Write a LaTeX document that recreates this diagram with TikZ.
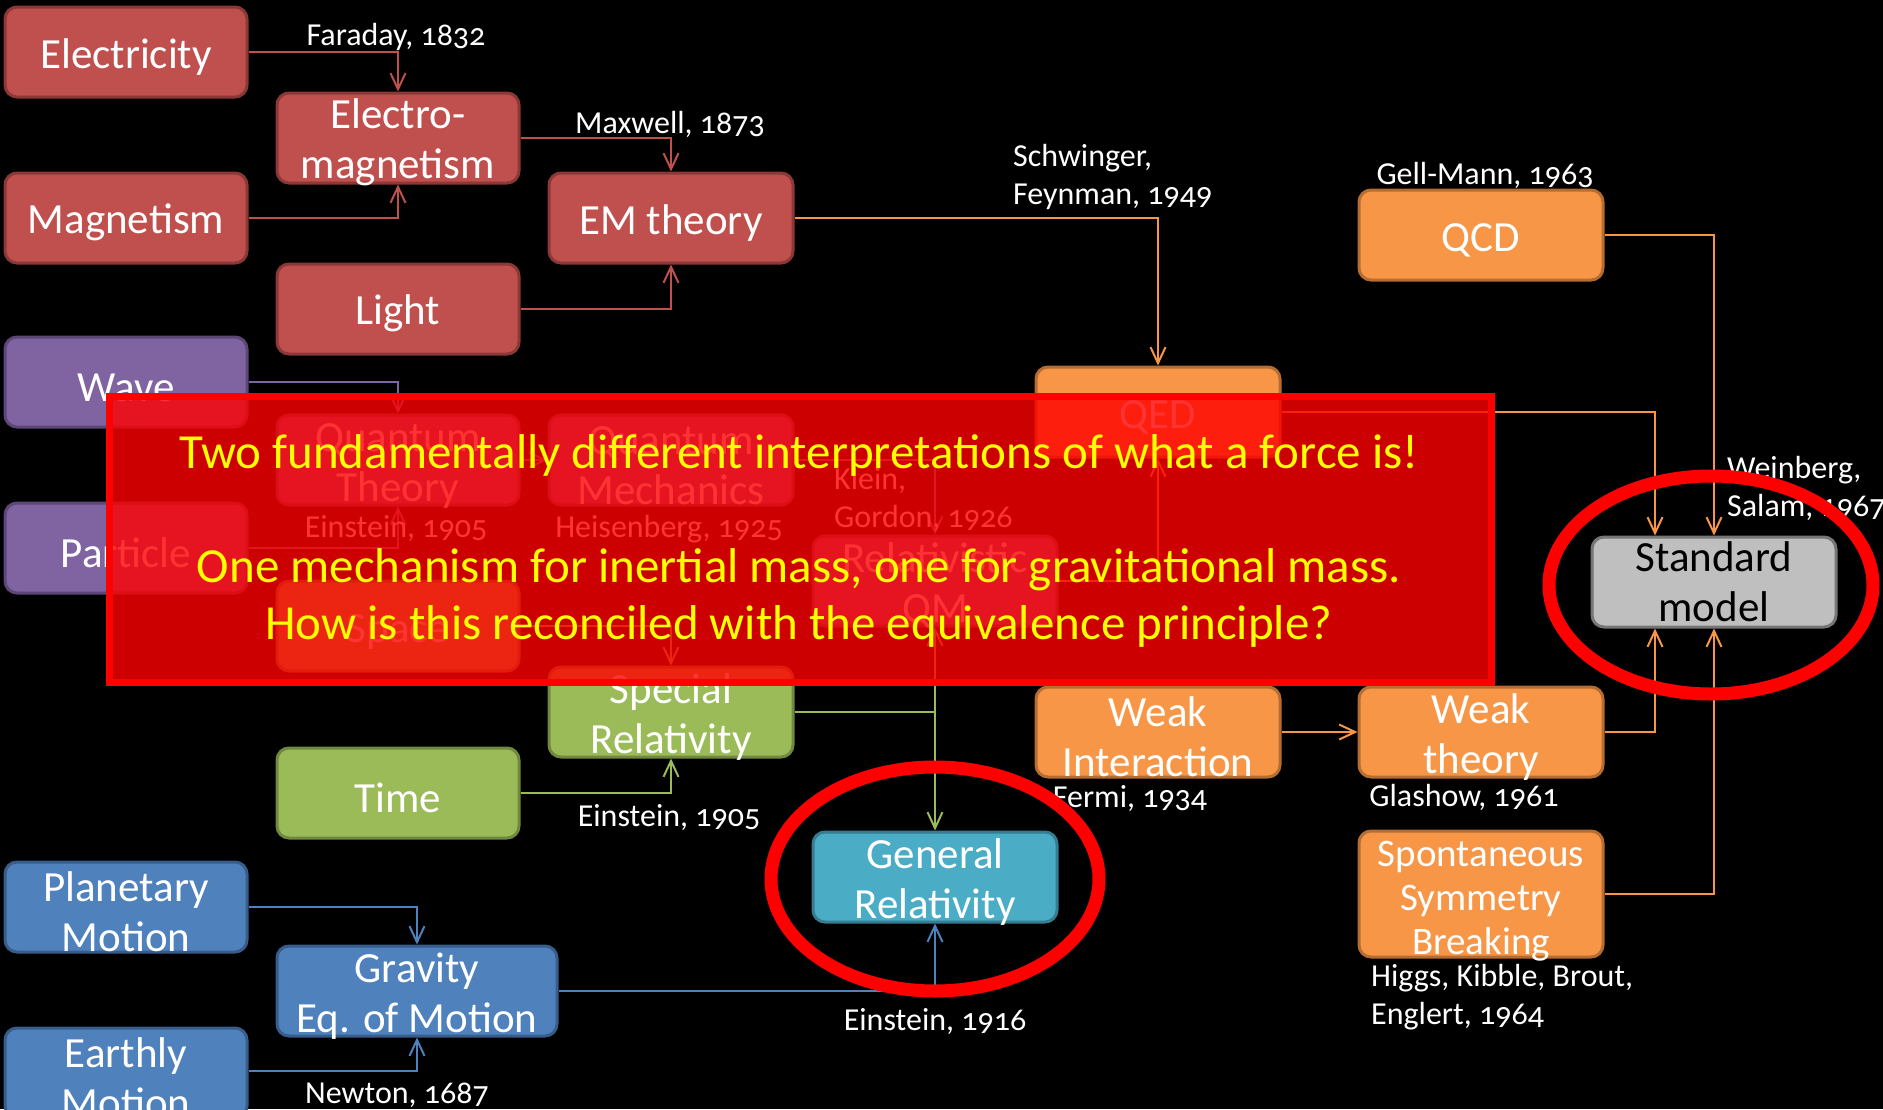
\documentclass[tikz,border=0pt]{standalone}
\usepackage{fontspec}
\setmainfont{Carlito}[Numbers=OldStyle]
\usetikzlibrary{arrows.meta}

\newcommand{\boxfont}{\fontsize{43}{50}\selectfont}
\newcommand{\ssbfont}{\fontsize{39}{44}\selectfont}
\newcommand{\notefont}{\fontsize{32}{38}\selectfont}
\newcommand{\alertfont}{\fontsize{49}{57}\selectfont}
\newcommand{\boxstrut}{\rule{0pt}{39pt}}

\tikzset{
  box/.style={rounded corners=12, minimum width=244, minimum height=90, inner xsep=0, inner ysep=-8, align=center, text=white, line width=3, font=\boxfont},
  redbox/.style={box, fill={rgb, 255:red, 192; green, 80; blue, 77}, draw={rgb, 255:red, 140; green, 56; blue, 54}},
  purplebox/.style={box, fill={rgb, 255:red, 128; green, 100; blue, 162}, draw={rgb, 255:red, 92; green, 71; blue, 118}},
  greenbox/.style={box, fill={rgb, 255:red, 155; green, 187; blue, 89}, draw={rgb, 255:red, 113; green, 137; blue, 63}},
  bluebox/.style={box, fill={rgb, 255:red, 79; green, 129; blue, 189}, draw={rgb, 255:red, 56; green, 93; blue, 138}},
  orangebox/.style={box, fill={rgb, 255:red, 247; green, 150; blue, 70}, draw={rgb, 255:red, 182; green, 109; blue, 49}},
  tealbox/.style={box, fill={rgb, 255:red, 75; green, 172; blue, 198}, draw={rgb, 255:red, 53; green, 125; blue, 145}},
  greybox/.style={box, fill={rgb, 255:red, 191; green, 191; blue, 191}, draw={rgb, 255:red, 118; green, 118; blue, 118}, text=black},
  link/.style={line width=2, -{Straight Barb[length=16, width=15]}},
  redlink/.style={link, draw={rgb, 255:red, 192; green, 80; blue, 77}},
  purplelink/.style={link, draw={rgb, 255:red, 128; green, 100; blue, 162}},
  greenlink/.style={link, draw={rgb, 255:red, 155; green, 187; blue, 89}},
  bluelink/.style={link, draw={rgb, 255:red, 79; green, 129; blue, 189}},
  orangelink/.style={link, draw={rgb, 255:red, 247; green, 150; blue, 70}},
  note/.style={text=white, font=\notefont, inner sep=0, align=left},
  ring/.style={draw={rgb, 255:red, 255; green, 0; blue, 0}, line width=13},
}

\begin{document}
\begin{tikzpicture}[x=1pt,y=1pt,yscale=-1,xscale=1]
\path[use as bounding box, fill=black] (0,0) rectangle (1883,1109);
\clip (0,0) rectangle (1883,1109);

% electromagnetism
\node[redbox, minimum width=242] (elec) at (126,52) {\boxstrut Electricity};
\node[redbox, minimum width=242] (mag) at (126,218) {\boxstrut Magnetism};
\node[redbox, minimum width=242] (emag) at (398,138) {\boxstrut Electro-\\magnetism};
\node[redbox, minimum width=242] (light) at (398,309) {\boxstrut Light};
\node[redbox] (emth) at (671,218) {\boxstrut EM theory};

% quantum
\node[purplebox, minimum width=242] (wave) at (126,382) {\boxstrut Wave};
\node[purplebox, minimum width=242] (part) at (126,548) {\boxstrut Particle};
\node[purplebox, minimum width=242] (qth) at (398,460) {\boxstrut Quantum\\Theory};
\node[purplebox] (qm) at (671,460) {\boxstrut Quantum\\Mechanics};
\node[purplebox] (rqm) at (935,581) {\boxstrut Relativistic\\QM};

% relativity
\node[greenbox, minimum width=242] (space) at (398,626) {\boxstrut Space};
\node[greenbox, minimum width=242] (time) at (398,793) {\boxstrut Time};
\node[greenbox] (sr) at (671,712) {\boxstrut Special\\Relativity};
\node[tealbox] (gr) at (935,877) {\boxstrut General\\Relativity};

% gravity
\node[bluebox, minimum width=242] (plan) at (126,907) {\boxstrut Planetary\\Motion};
\node[bluebox, minimum width=242] (earth) at (126,1073) {\boxstrut Earthly\\Motion};
\node[bluebox, minimum width=280] (grav) at (417,991) {\boxstrut Gravity\\Eq. of Motion};

% particle physics
\node[orangebox] (qed) at (1158,412) {\boxstrut QED};
\node[orangebox] (qcd) at (1481,235) {\boxstrut QCD};
\node[orangebox] (weak) at (1158,732) {\boxstrut Weak\\Interaction};
\node[orangebox] (wth) at (1481,732) {\boxstrut Weak\\theory};
\node[orangebox, minimum height=126, font=\ssbfont] (ssb) at (1481,894) {\boxstrut Spontaneous\\Symmetry\\Breaking};
\node[greybox] (sm) at (1714,582) {Standard\\model};

% connectors
\draw[redlink] (elec.east) -| (emag.north);
\draw[redlink] (mag.east) -| (emag.south);
\draw[redlink] (emag.east) -| (emth.north);
\draw[redlink] (light.east) -| (emth.south);
\draw[orangelink] (emth.east) -| (qed.north);
\draw[purplelink] (wave.east) -| (qth.north);
\draw[purplelink] (part.east) -| (qth.south);
\draw[purplelink] (qth.east) -- (qm.west);
\draw[purplelink] (qm.east) -| (rqm.north);
\draw[orangelink] (rqm.east) -| (qed.south);
\draw[greenlink] (space.east) -| (sr.north);
\draw[greenlink] (time.east) -| (sr.south);
\draw[greenlink] (sr.east) -| (rqm.south);
\draw[greenlink] (sr.east) -| (gr.north);
\draw[bluelink] (plan.east) -| (grav.north);
\draw[bluelink] (earth.east |- 0,1071) -| (grav.south);
\draw[bluelink] (grav.east) -| (gr.south);
\draw[orangelink] (qed.east) -| ([xshift=-59]sm.north);
\draw[orangelink] (qcd.east) -| (sm.north);
\draw[orangelink] (weak.east) -- (wth.west);
\draw[orangelink] (wth.east) -| ([xshift=-59]sm.south);
\draw[orangelink] (ssb.east) -| (sm.south);

% who and when
\node[note] (faraday) at (396,37) {Faraday, 1832};
\node[note] (maxwell) at (670,124) {Maxwell, 1873};
\node[note, anchor=west] (qednote) at (1013,177) {Schwinger,\\Feynman, 1949};
\node[note] (gellmann) at (1485,175) {Gell-Mann, 1963};
\node[note] (einsteinqt) at (396,529) {Einstein, 1905};
\node[note] (heisenberg) at (669,529) {Heisenberg, 1925};
\node[note, anchor=west] (kleingordon) at (834,499) {Klein,\\Gordon, 1926};
\node[note, anchor=west] (smnote) at (1727,488) {Weinberg,\\Salam, 1967};
\node[note] (einsteinsr) at (669,818) {Einstein, 1905};
\node[note] (fermi) at (1130,799) {Fermi, 1934};
\node[note] (glashow) at (1464,797) {Glashow, 1961};
\node[note, anchor=west] (higgs) at (1371,997) {Higgs, Kibble, Brout,\\Englert, 1964};
\node[note] (einsteingr) at (935,1022) {Einstein, 1916};
\node[note] (newton) at (397,1095) {Newton, 1687};

% the question laid over the middle
\draw[draw={rgb, 255:red, 255; green, 0; blue, 0}, line width=7, fill={rgb, 255:red, 255; green, 0; blue, 0}, fill opacity=0.8] (109,396) rectangle (1491,682);
\node[text={rgb, 255:red, 255; green, 255; blue, 0}, font=\alertfont, align=center, inner sep=0] (question) at (799,541)
  {Two fundamentally different interpretations of what a force is!\\[57pt]
   One mechanism for inertial mass, one for gravitational mass.\\
   How is this reconciled with the equivalence principle?};

% rings
\draw[ring] (935,879) ellipse [x radius=164, y radius=112];
\draw[ring] (1711,585) ellipse [x radius=162, y radius=109];
\end{tikzpicture}
\end{document}
